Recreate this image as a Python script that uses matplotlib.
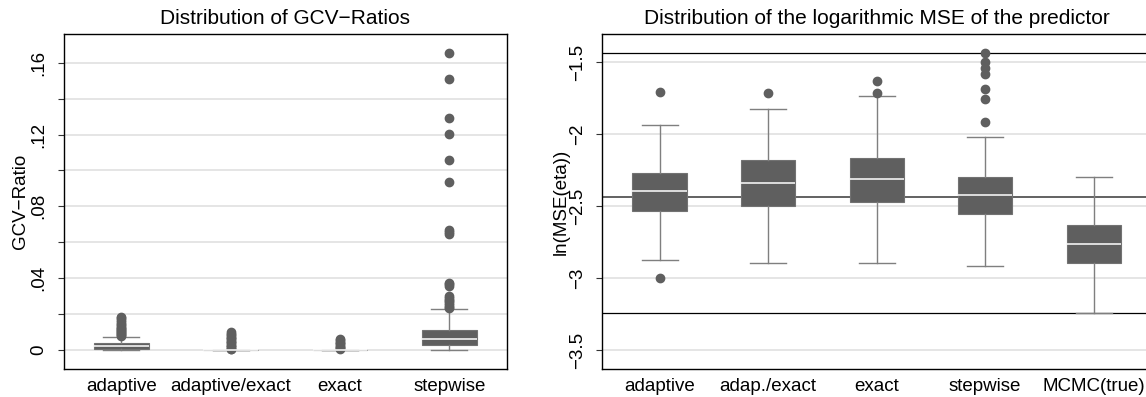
import matplotlib
matplotlib.use("Agg")
import matplotlib.pyplot as plt

plt.rcParams['font.family'] = ['Liberation Sans', 'DejaVu Sans']
plt.rcParams['axes.unicode_minus'] = True

# ---------------- data: left panel (GCV ratios) ----------------
gcv_categories = ["adaptive", "adaptive/exact", "exact", "stepwise"]
gcv_q1 = [0.0008, 0.0, 0.0, 0.0029]
gcv_med = [0.0021, 0.0, 0.0, 0.0063]
gcv_q3 = [0.0038, 0.0, 0.0, 0.0113]
gcv_whislo = [0.0, 0.0, 0.0, 0.0]
gcv_whishi = [0.0074, 0.0, 0.0, 0.0228]
gcv_out_adaptive = [0.0078, 0.0083, 0.0088, 0.0094, 0.0100, 0.0106, 0.0112, 0.0118,
                    0.0124, 0.0130, 0.0137, 0.0145, 0.0155, 0.0165, 0.0176, 0.0186]
gcv_out_adapexact = [0.0003, 0.0008, 0.0015, 0.0022, 0.0030, 0.0038, 0.0045, 0.0052,
                     0.0060, 0.0068, 0.0075, 0.0082, 0.0090, 0.0098]
gcv_out_exact = [0.0004, 0.0010, 0.0018, 0.0025, 0.0032, 0.0040, 0.0047, 0.0055, 0.0063]
gcv_out_stepwise = [0.0232, 0.0240, 0.0250, 0.0262, 0.0272, 0.0280, 0.0290, 0.0300,
                    0.0355, 0.0365, 0.0372, 0.0647, 0.0658, 0.0669, 0.0938, 0.1061,
                    0.1203, 0.1290, 0.1507, 0.1652]
gcv_ticks = [0, 0.02, 0.04, 0.06, 0.08, 0.10, 0.12, 0.14, 0.16]
gcv_ticklabels = ["0", "", ".04", "", ".08", "", ".12", "", ".16"]

# ---------------- data: right panel (log MSE) ----------------
mse_categories = ["adaptive", "adap./exact", "exact", "stepwise", "MCMC(true)"]
mse_q1 = [-2.533, -2.499, -2.475, -2.556, -2.897]
mse_med = [-2.396, -2.340, -2.311, -2.424, -2.766]
mse_q3 = [-2.273, -2.182, -2.168, -2.300, -2.634]
mse_whislo = [-2.875, -2.897, -2.897, -2.917, -3.245]
mse_whishi = [-1.939, -1.826, -1.734, -2.018, -2.296]
mse_out_adaptive = [-1.709, -2.997]
mse_out_adapexact = [-1.712]
mse_out_exact = [-1.630, -1.713]
mse_out_stepwise = [-1.440, -1.500, -1.540, -1.580, -1.690, -1.760, -1.915]
mse_out_mcmc = []
mse_reflines = [-1.44, -2.435, -3.245]
mse_ticks = [-3.5, -3.0, -2.5, -2.0, -1.5]
mse_ticklabels = ["\u22123.5", "\u22123", "\u22122.5", "\u22122", "\u22121.5"]

BOX = "#5f5f5f"
WHISK = "#7f7f7f"
GRID = "#e3e3e3"
FS = 13.5

fig = plt.figure(figsize=(11.46, 3.97), dpi=100)
W, H = 1146.0, 397.0
ax1 = fig.add_axes([63.6 / W, (H - 369.3) / H, (507.2 - 63.6) / W, (369.3 - 34) / H])
ax2 = fig.add_axes([602.3 / W, (H - 369.3) / H, (1151 - 602.3) / W, (369.3 - 34) / H])


def make_stats(cats, q1, med, q3, lo, hi, fliers):
    return [dict(label=c, q1=a, med=m, q3=b, whislo=l, whishi=h, fliers=f)
            for c, a, m, b, l, h, f in zip(cats, q1, med, q3, lo, hi, fliers)]


def draw(ax, stats):
    n = len(stats)
    ax.bxp(stats, positions=list(range(1, n + 1)), widths=0.5, capwidths=0.33,
           patch_artist=True, showfliers=True,
           boxprops=dict(facecolor=BOX, edgecolor="#727272", linewidth=0.8),
           medianprops=dict(color="white", linewidth=1.1),
           whiskerprops=dict(color=WHISK, linewidth=1.0),
           capprops=dict(color=WHISK, linewidth=1.0),
           flierprops=dict(marker="o", markersize=6, markerfacecolor=BOX,
                           markeredgecolor=BOX, linestyle="none"))
    ax.set_xlim(0.472, n + 0.528)
    ax.set_xticks(range(1, n + 1))
    ax.set_xticklabels([s["label"] for s in stats], fontsize=FS)
    ax.tick_params(axis="x", length=0, pad=6)
    ax.tick_params(axis="y", length=4.5, width=0.8, color="#333333", pad=7, labelsize=FS)
    for lab in ax.get_yticklabels():
        lab.set_rotation(90)
        lab.set_va("center")
    ax.yaxis.grid(True, color=GRID, linewidth=1.3)
    ax.set_axisbelow(True)
    for sp in ax.spines.values():
        sp.set_linewidth(1.0)
        sp.set_color("black")


stats1 = make_stats(gcv_categories, gcv_q1, gcv_med, gcv_q3, gcv_whislo, gcv_whishi,
                    [gcv_out_adaptive, gcv_out_adapexact, gcv_out_exact, gcv_out_stepwise])
ax1.set_yticks(gcv_ticks)
ax1.set_yticklabels(gcv_ticklabels)
draw(ax1, stats1)
ax1.set_ylim(-0.01075, 0.176)
ax1.set_ylabel("GCV\u2212Ratio", fontsize=FS, labelpad=1)
ax1.set_title("Distribution of GCV\u2212Ratios", fontsize=15, pad=7)

stats2 = make_stats(mse_categories, mse_q1, mse_med, mse_q3, mse_whislo, mse_whishi,
                    [mse_out_adaptive, mse_out_adapexact, mse_out_exact, mse_out_stepwise,
                     mse_out_mcmc])
ax2.set_yticks(mse_ticks)
ax2.set_yticklabels(mse_ticklabels)
draw(ax2, stats2)
for v, c, lw in zip(mse_reflines, ["black", "#555555", "black"], [0.9, 1.3, 0.9]):
    ax2.axhline(v, color=c, linewidth=lw, zorder=1.5)
ax2.set_ylim(-3.634, -1.3056)
ax2.set_ylabel("ln(MSE(eta))", fontsize=FS, labelpad=0)
ax2.set_title("Distribution of the logarithmic MSE of the predictor", fontsize=15, pad=7)

fig.savefig("out.png", dpi=100, facecolor="white")
